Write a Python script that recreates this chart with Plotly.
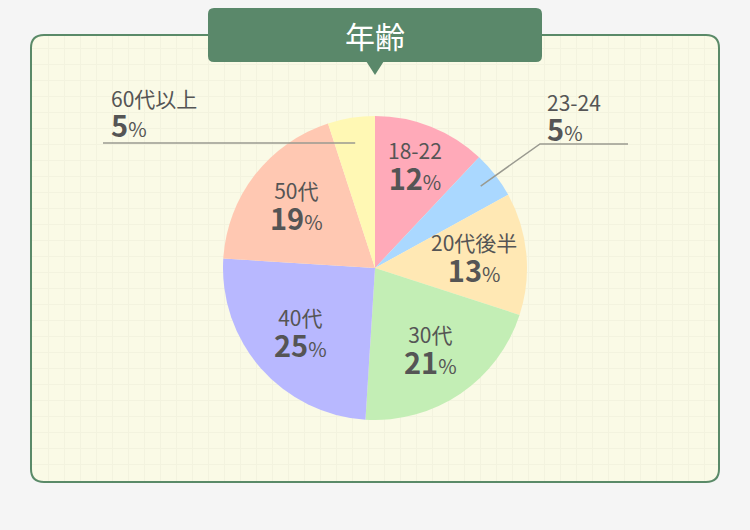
import math
import plotly.graph_objects as go

# ─── データ ───────────────────────────────────────────────
labels = ["18-22", "23-24", "20代後半", "30代", "40代", "50代", "60代以上"]
values = [12, 5, 13, 21, 25, 19, 5]
colors = ["#ffaab9", "#aad8ff", "#ffe8b4", "#c3eeb5", "#b8b8ff", "#ffc8b2", "#fff8b4"]
title_text = "年齢"

# ─── レイアウト (ピクセル) ─────────────────────────────────
W, H = 750, 530
CX, CY, R = 375, 268, 152
TEXT = "#555555"
FONT = "Noto Sans CJK JP"
small_slices = {"23-24", "60代以上"}
label_radius = {"18-22": 0.72}
callouts = {
    # label: (テキスト左端x, テキスト中心y, 折れ点, 線の終点)
    "23-24": (545, 118, (540, 144), (628, 144)),
    "60代以上": (109, 114, None, (103, 143)),
}


def px(x):
    return x / W


def py(y):
    return 1 - y / H


def angle_point(frac, rr):
    a = 2 * math.pi * frac
    return CX + rr * math.sin(a), CY - rr * math.cos(a)


def rrect(x0, y0, x1, y1, r):
    p = [("M", x0 + r, y0), ("L", x1 - r, y0), ("Q", x1, y0, x1, y0 + r),
         ("L", x1, y1 - r), ("Q", x1, y1, x1 - r, y1), ("L", x0 + r, y1),
         ("Q", x0, y1, x0, y1 - r), ("L", x0, y0 + r), ("Q", x0, y0, x0 + r, y0)]
    out = ""
    for seg in p:
        cmd, nums = seg[0], seg[1:]
        pts = []
        for i in range(0, len(nums), 2):
            pts.append(f"{px(nums[i]):.5f},{py(nums[i + 1]):.5f}")
        out += cmd + " " + " ".join(pts) + " "
    return out + "Z"


def note(x, y, text, size, xanchor="center", color=TEXT):
    return dict(x=px(x), y=py(y), xref="paper", yref="paper", text=text,
                showarrow=False, xanchor=xanchor, yanchor="middle",
                align="left" if xanchor == "left" else "center",
                font=dict(family=FONT, size=size, color=color))


fig = go.Figure()

# 方眼の背景用 (非表示トレース)
fig.add_trace(go.Scatter(x=[None], y=[None], showlegend=False, hoverinfo="skip"))

fig.add_trace(go.Pie(
    labels=labels,
    values=values,
    sort=False,
    direction="clockwise",
    rotation=0,
    marker=dict(colors=colors, line=dict(width=0)),
    textinfo="none",
    hoverinfo="label+percent",
    showlegend=False,
    domain=dict(x=[px(CX - R), px(CX + R)], y=[py(CY + R), py(CY - R)]),
))

shapes = [
    dict(type="path", xref="paper", yref="paper", layer="below",
         path=rrect(31, 35, 719, 482, 13),
         fillcolor="#fafae6", line=dict(color="#5a8a68", width=2)),
    dict(type="path", xref="paper", yref="paper", layer="above",
         path=rrect(208, 8, 542, 62, 6),
         fillcolor="#5a886a", line=dict(width=0)),
    dict(type="path", xref="paper", yref="paper", layer="above",
         path=f"M {px(366):.5f},{py(61):.5f} L {px(384):.5f},{py(61):.5f} "
              f"L {px(375):.5f},{py(75):.5f} Z",
         fillcolor="#5a886a", line=dict(width=0)),
]

annotations = [note(375, 35, title_text, 30, color="white")]

total = sum(values)
cum = 0
for lab, v in zip(labels, values):
    mid = (cum + v / 2) / total
    cum += v
    text = (f"<span style='font-size:21px'>{lab}</span><br>"
            f"<span style='font-size:29px'><b>{round(100 * v / total)}</b></span>"
            f"<span style='font-size:20px'>%</span>")
    if lab in small_slices:
        tx, ty, elbow, end = callouts[lab]
        if elbow is None:
            # 水平線: 扇の中で線の高さに合う点から
            a = 2 * math.pi * mid
            rr = (CY - end[1]) / math.cos(a)
            sx, sy = CX + rr * math.sin(a), end[1]
            pts = [(sx, sy), end]
        else:
            sx, sy = angle_point(mid, R * 0.88)
            pts = [(sx, sy), elbow, end]
        path = "M " + " L ".join(f"{px(a):.5f},{py(b):.5f}" for a, b in pts)
        shapes.append(dict(type="path", xref="paper", yref="paper", layer="above",
                           path=path, line=dict(color="#9a9a90", width=1.5)))
        annotations.append(note(tx, ty, text, 23, xanchor="left"))
    else:
        lx, ly = angle_point(mid, R * label_radius.get(lab, 0.655))
        annotations.append(note(lx, ly, text, 24))

fig.update_layout(
    width=W,
    height=H,
    margin=dict(l=0, r=0, t=0, b=0),
    paper_bgcolor="#f5f5f5",
    plot_bgcolor="rgba(0,0,0,0)",
    xaxis=dict(domain=[px(32), px(718)], range=[32, 718], dtick=16, tick0=0,
               showgrid=True, gridcolor="#f3f3df", gridwidth=1, zeroline=False,
               showticklabels=False, ticks="", fixedrange=True),
    yaxis=dict(domain=[py(481), py(36)], range=[481, 36], dtick=16, tick0=0,
               showgrid=True, gridcolor="#f3f3df", gridwidth=1, zeroline=False,
               showticklabels=False, ticks="", fixedrange=True),
    shapes=shapes,
    annotations=annotations,
    font=dict(family=FONT, color=TEXT),
)

fig.write_html("out.html", config={"displayModeBar": False},
               post_script="document.body.style.margin = '0';")
